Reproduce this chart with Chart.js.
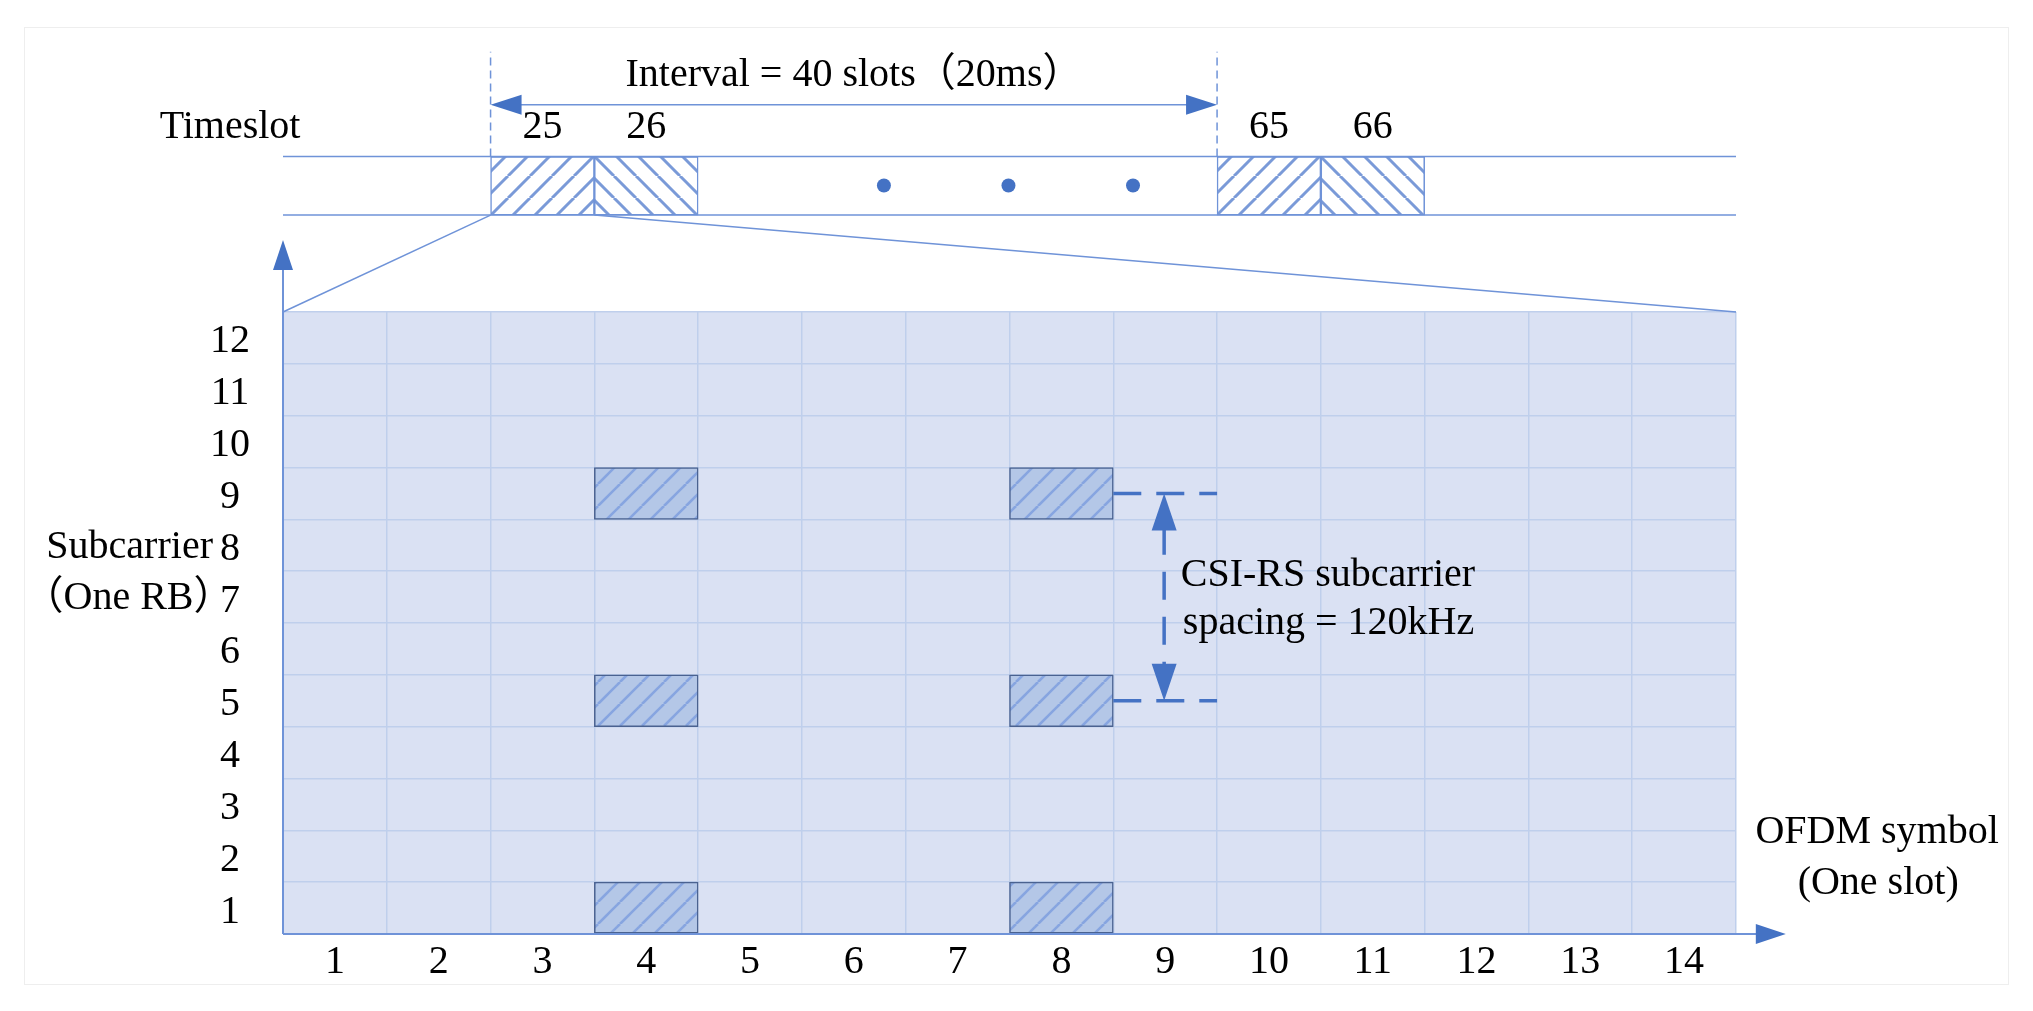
<!DOCTYPE html>
<html>
<head>
<meta charset="utf-8">
<style>
  html, body { margin: 0; background: #fff; }
  #frame { position: absolute; left: 24px; top: 27px; width: 1983px; height: 956px; border: 1px solid #eeeeee; }
  #chart { position: absolute; left: 0; top: 0; }
</style>
</head>
<body>
<div id="frame"></div>
<canvas id="chart" width="2033" height="1011"></canvas>
<script src="https://cdn.jsdelivr.net/npm/chart.js@4/dist/chart.umd.js"></script>
<script>
const symbols = ["1", "2", "3", "4", "5", "6", "7", "8", "9", "10", "11", "12", "13", "14"];
const subcarriers = ["12", "11", "10", "9", "8", "7", "6", "5", "4", "3", "2", "1"];

// CSI-RS cells
const csiSymbols = ["4", "8"];
const csiSubcarriers = [1, 5, 9];

// timeslots drawn above the grid, in the same columns
const slotSymbols = ["3", "4", "10", "11"];
const slotLabels = ["25", "26", "65", "66"];
const slotHatch = ["/", "\\", "/", "\\"];
const slotRow = [13.87, 15];

const dotsX = [5.79, 6.99, 8.19];
const dotsY = 14.44;

const BLUE = "#4472c4";
const THIN = "#6f93d8";
const FONT = "40px 'Liberation Serif', 'Noto Sans CJK SC'";

const hatchTile = (dir, size, color, width, back, phase) => {
    const c = document.createElement("canvas");
    c.width = c.height = size;
    const t = c.getContext("2d");
    t.fillStyle = back;
    t.fillRect(0, 0, size, size);
    t.strokeStyle = color;
    t.lineWidth = width;
    for (let k = -2; k <= 2; k++) {
        const o = phase + k * size;
        t.beginPath();
        if (dir === "/") {
            t.moveTo(o, 0);
            t.lineTo(o - size, size);
        } else {
            t.moveTo(o, 0);
            t.lineTo(o + size, size);
        }
        t.stroke();
    }
    return t.createPattern(c, "repeat");
};

const ctx = document.getElementById("chart").getContext("2d");
const slotFills = {
    "/": hatchTile("/", 22, "#7a9ad8", 3, "#ffffff", 750 % 22),
    "\\": hatchTile("\\", 22, "#7a9ad8", 3, "#ffffff", 438 % 22),
};
const csiFill = hatchTile("/", 22, "#87a5e0", 2.6, "#b4c7e7", 4);

const csiCells = [];
csiSymbols.forEach((s) => csiSubcarriers.forEach((r) => csiCells.push({ x: s, y: [r - 1, r] })));

const line = (pts, color, width, dash) => ({
    type: "scatter",
    xAxisID: "xv",
    yAxisID: "y",
    data: pts.map((p) => ({ x: p[0], y: p[1] })),
    showLine: true,
    pointRadius: 0,
    borderColor: color,
    borderWidth: width,
    borderDash: dash || [],
    clip: false,
});

const arrows = [
    // tip x, tip y, angle (0 = pointing right), length, width
    { x: 2, y: 16, a: Math.PI, l: 31, w: 20 },
    { x: 9, y: 16, a: 0, l: 31, w: 20 },
    { x: 0, y: 13.39, a: -Math.PI / 2, l: 30, w: 20 },
    { x: 14.48, y: 0, a: 0, l: 30, w: 20 },
    { x: 8.49, y: 8.5, a: -Math.PI / 2, l: 37, w: 25 },
    { x: 8.49, y: 4.5, a: Math.PI / 2, l: 37, w: 25 },
];

// free text, anchored on the scales
const notes = [
    { t: "Timeslot", x: -0.51, y: 15.55, al: "center" },
    { t: "Interval = 40 slots（20ms）", x: 3.3, y: 16.57, al: "left" },
    { t: "CSI-RS subcarrier", x: 8.65, y: 6.92, al: "left" },
    { t: "spacing = 120kHz", x: 8.67, y: 6.0, al: "left" },
    { t: "OFDM symbol", x: 15.36, y: 1.95, al: "center" },
    { t: "(One slot)", x: 15.37, y: 0.98, al: "center" },
    { t: "Subcarrier", x: -2.28, y: 7.45, al: "left" },
    { t: "（One RB）", x: -2.5, y: 6.47, al: "left" },
];

const overlay = {
    id: "overlay",
    beforeDraw(c) {
        const a = c.chartArea;
        c.ctx.fillStyle = "#dae1f3";
        c.ctx.fillRect(a.left, a.top, a.right - a.left, a.bottom - a.top);
    },
    afterDatasetsDraw(c) {
        const g = c.ctx;
        const sx = c.scales.xv;
        const sy = c.scales.y;
        g.save();
        g.fillStyle = BLUE;
        arrows.forEach((h) => {
            g.save();
            g.translate(sx.getPixelForValue(h.x), sy.getPixelForValue(h.y));
            g.rotate(h.a);
            g.beginPath();
            g.moveTo(0, 0);
            g.lineTo(-h.l, -h.w / 2);
            g.lineTo(-h.l, h.w / 2);
            g.closePath();
            g.fill();
            g.restore();
        });
        dotsX.forEach((x) => {
            g.beginPath();
            g.arc(sx.getPixelForValue(x), sy.getPixelForValue(dotsY), 7, 0, Math.PI * 2);
            g.fill();
        });
        g.fillStyle = "#000";
        g.font = FONT;
        g.textBaseline = "middle";
        notes.forEach((n) => {
            g.textAlign = n.al;
            g.fillText(n.t, sx.getPixelForValue(n.x), sy.getPixelForValue(n.y));
        });
        g.textAlign = "center";
        slotLabels.forEach((l, i) => {
            g.fillText(l, sx.getPixelForValue(+slotSymbols[i] - 0.5), sy.getPixelForValue(15.55));
        });
        g.restore();
    },
};

new Chart(ctx, {
    type: "bar",
    plugins: [overlay],
    data: {
        labels: symbols,
        datasets: [
            {
                data: csiCells,
                backgroundColor: csiFill,
                borderColor: "#4a6290",
                borderWidth: 1.5,
                borderSkipped: false,
                order: 2,
            },
            {
                data: slotSymbols.map((s) => ({ x: s, y: slotRow })),
                backgroundColor: slotHatch.map((h) => slotFills[h]),
                borderColor: THIN,
                borderWidth: 1.5,
                borderSkipped: false,
                clip: false,
                order: 2,
            },
            line([[0, 15], [14, 15]], THIN, 1.5),
            line([[0, slotRow[0]], [14, slotRow[0]]], THIN, 1.5),
            line([[2, 15], [2, 17.02]], THIN, 1.5, [8, 5]),
            line([[9, 15], [9, 17.02]], THIN, 1.5, [8, 5]),
            line([[2.1, 16], [8.9, 16]], THIN, 1.5),
            line([[0, 12], [2, slotRow[0]]], THIN, 1.5),
            line([[3, slotRow[0]], [14, 12]], THIN, 1.5),
            line([[0, 0], [0, 13.1]], THIN, 2),
            line([[0, 0], [14.3, 0]], THIN, 2),
            // CSI-RS spacing markers
            line([[8, 8.5], [9, 8.5]], BLUE, 3.5, [28, 15]),
            line([[8, 4.5], [9, 4.5]], BLUE, 3.5, [28, 15]),
            line([[8.49, 7.855], [8.49, 4.9]], BLUE, 3.5, [28, 17]),
        ],
    },
    options: {
        responsive: false,
        animation: false,
        events: [],
        layout: { padding: { top: 312, right: 297 } },
        datasets: { bar: { grouped: false, barPercentage: 1, categoryPercentage: 1 } },
        plugins: { legend: { display: false }, tooltip: { enabled: false } },
        scales: {
            x: {
                type: "category",
                offset: true,
                grid: { offset: true, color: "#bfcfec", lineWidth: 1.5, drawTicks: false },
                border: { display: false },
                ticks: { color: "#000", font: { family: "'Liberation Serif'", size: 40 }, padding: 4, maxRotation: 0, autoSkip: false },
                afterFit(s) { s.height = 77; },
            },
            xv: { type: "linear", display: false, min: 0, max: 14, offset: false },
            y: {
                type: "linear",
                min: 0,
                max: 12,
                grid: { color: "#bfcfec", lineWidth: 1.5, drawTicks: false },
                border: { display: false },
                ticks: { display: false, stepSize: 1 },
            },
            yCell: {
                type: "category",
                axis: "y",
                position: "left",
                labels: subcarriers,
                offset: true,
                grid: { display: false, drawTicks: false },
                border: { display: false },
                ticks: { color: "#000", font: { family: "'Liberation Serif'", size: 40 }, padding: 33, crossAlign: "center", autoSkip: false, labelOffset: 4 },
                afterFit(s) { s.width = 283; },
            },
        },
    },
});
</script>
</body>
</html>
